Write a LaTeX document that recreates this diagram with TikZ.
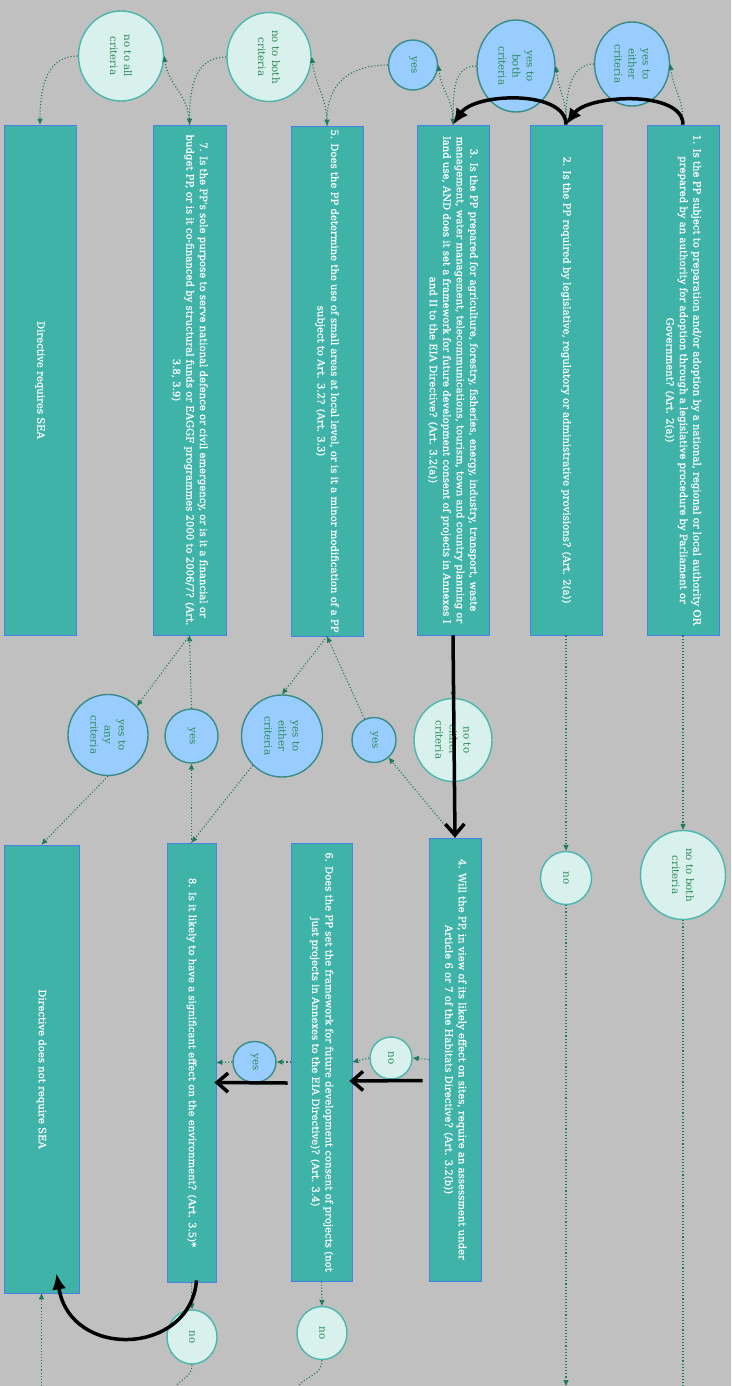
\documentclass[tikz,border=0pt]{standalone}
\usepackage{fontspec}
\setmainfont{DejaVu Serif}
\newfontfamily\boxfont{DejaVu Serif}[BoldFont={DejaVu Serif}, BoldFeatures={FakeBold=0.6}]
\definecolor{bggray}{HTML}{C0C0C0}
\definecolor{boxteal}{HTML}{40B3A8}
\definecolor{boxline}{HTML}{4A7FE6}
\definecolor{yesfill}{HTML}{99CCFF}
\definecolor{yesline}{HTML}{3A8C88}
\definecolor{nofill}{HTML}{D8F1ED}
\definecolor{noline}{HTML}{4DB6AC}
\definecolor{textgreen}{HTML}{2E8B57}
\definecolor{linkgreen}{HTML}{217A5B}
\usepackage{tikz}
\usetikzlibrary{calc}
\usetikzlibrary{arrows.meta,shapes.geometric}

\begin{document}
\begin{tikzpicture}[x=1pt, y=-1pt,
  question/.style={rotate=-90, draw=boxline, line width=0.8pt, fill=boxteal, text=white,
    align=center, inner sep=0pt, font=\boxfont\bfseries\fontsize{10.1}{13.5}\selectfont},
  yesnode/.style={rotate=-90, ellipse, draw=yesline, line width=1.4pt, fill=yesfill,
    text=textgreen, align=center, inner sep=0pt, font=\fontsize{10.3}{14}\selectfont},
  nonode/.style={yesnode, draw=noline, fill=nofill},
  link/.style={dotted, line width=1.1pt, draw=linkgreen, -{Triangle[length=6pt,width=5pt]}},
  route/.style={line width=3.5pt, black, -{Latex[length=16pt,width=14pt]}},
  routeopen/.style={line width=3.5pt, black, -{Straight Barb[length=11pt,width=19pt]}}]

\fill[bggray] (0,0) rectangle (731,1386);
\useasboundingbox (0,0) rectangle (731,1386);

% questions

\node[question, minimum width=510pt, minimum height=72pt] (q1) at (683,380)
  {1. Is the PP subject to preparation and/or adoption by a national, regional or local authority OR\\
   prepared by an authority for adoption through a legislative procedure by Parliament or\\
   Government? (Art. 2(a))};
\node[question, minimum width=510pt, minimum height=72pt] (q2) at (566,380)
  {2. Is the PP required by legislative, regulatory or administrative provisions? (Art. 2(a))};
\node[question, minimum width=510pt, minimum height=72pt] (q3) at (453,380)
  {3. Is the PP prepared for agriculture, forestry, fisheries, energy, industry, transport, waste\\
   management, water management, telecommunications, tourism, town and country planning or\\
   land use, AND does it set a framework for future development consent of projects in Annexes I\\
   and II to the EIA Directive? (Art. 3.2(a))};
\node[question, minimum width=510pt, minimum height=72pt] (q5) at (327,381)
  {5. Does the PP determine the use of small areas at local level, or is it a minor modification of a PP\\
   subject to Art. 3.2? (Art. 3.3)};
\node[question, minimum width=510pt, minimum height=73pt] (q7) at (189.5,380)
  {7. Is the PP's sole purpose to serve national defence or civil emergency, or is it a financial or\\
   budget PP, or is it co-financed by structural funds or EAGGF programmes 2000 to 2006/7? (Art.\\
   3.8, 3.9)};
\node[question, minimum width=510pt, minimum height=72pt] (req) at (40,380)
  {Directive requires SEA};

\node[question, minimum width=443pt, minimum height=52pt] (q4) at (455,1059.5)
  {4. Will the PP, in view of its likely effect on sites, require an assessment under\\
   Article 6 or 7 of the Habitats Directive? (Art. 3.2(b))};
\node[question, minimum width=438pt, minimum height=61pt] (q6) at (321.5,1062)
  {6. Does the PP set the framework for future development consent of projects (not\\
   just projects in Annexes to the EIA Directive)? (Art. 3.4)};
\node[question, minimum width=439pt, minimum height=49pt] (q8) at (191.5,1062.5)
  {8. Is it likely to have a significant effect on the environment? (Art. 3.5)*};
\node[question, minimum width=448pt, minimum height=75pt] (notreq) at (41.5,1069)
  {Directive does not require SEA};

% answers

\node[yesnode, minimum width=84pt, minimum height=75pt] (ye1) at (632,64) {yes to\\either\\criteria};
\node[yesnode, minimum width=92pt, minimum height=78pt] (yb) at (516,66) {yes to\\both\\criteria};
\node[yesnode, minimum width=50pt, minimum height=49pt] (y3) at (413,65) {yes};
\node[nonode, minimum width=89pt, minimum height=84pt] (nb5) at (269,57) {no to both\\criteria};
\node[nonode, minimum width=90pt, minimum height=85pt] (na) at (121,56) {no to all\\criteria};

\node[yesnode, minimum width=81pt, minimum height=80pt] (ya) at (108,735) {yes to\\any\\criteria};
\node[yesnode, minimum width=54pt, minimum height=53pt] (y8) at (191.5,736) {yes};
\node[yesnode, minimum width=82pt, minimum height=81pt] (ye5) at (282,736) {yes to\\either\\criteria};
\node[yesnode, minimum width=45pt, minimum height=44pt] (y4) at (374,740) {yes};
\node[nonode, minimum width=83pt, minimum height=78pt] (ne3) at (453,740) {no to\\either\\criteria};
\node[nonode, minimum width=53pt, minimum height=51pt] (n2) at (566,878) {no};
\node[nonode, minimum width=89pt, minimum height=85pt] (nb1) at (683,875) {no to both\\criteria};

\node[nonode, minimum width=42pt, minimum height=42pt] (n4) at (391,1058) {no};
\node[yesnode, minimum width=41pt, minimum height=43pt] (y6) at (254.5,1062) {yes};
\node[nonode, minimum width=53pt, minimum height=50pt] (n6) at (322,1333) {no};
\node[nonode, minimum width=54pt, minimum height=50pt] (n8) at (192,1337) {no};

% free ends at the bottom edge
\coordinate (end1) at (683,1386);
\coordinate (end2) at (566,1386);
\coordinate (end6) at (298,1386);
\coordinate (end8) at (176,1386);
\coordinate (start0) at (41.5,1386);

% edges, top row
\draw[link] (q1.west) .. controls +(0,-30) and +(4,30) .. (ye1.north);
\draw[link] (ye1.south) .. controls +(-22,0) and +(0,-35) .. (q2.west);
\draw[link] (q2.west) .. controls +(0,-30) and +(4,30) .. (yb.north);
\draw[link] (yb.south) .. controls +(-22,0) and +(0,-35) .. (q3.west);
\draw[link] (q3.west) .. controls +(0,-30) and +(4,30) .. (y3.north);
\draw[link] (y3.south) .. controls +(-40,0) and +(0,-40) .. (q5.west);
\draw[link] (q5.west) .. controls +(0,-30) and +(4,30) .. (nb5.north);
\draw[link] (nb5.south) .. controls +(-30,0) and +(0,-40) .. (q7.west);
\draw[link] (q7.west) .. controls +(0,-30) and +(4,30) .. (na.north);
\draw[link] (na.south) .. controls +(-30,0) and +(0,-40) .. (req.west);

% edges, middle
\draw[link] (q1.east) -- (nb1.west);
\draw[link, -] (nb1.east) -- (end1);
\draw[link] (q2.east) -- (n2.west);
\draw[link] (n2.east) -- (end2);
\draw[link] (q3.east) -- (ne3.west);
\draw[link] (ne3.east) -- (q4.west);
\draw[link] (q4.west) -- (y4);
\draw[link] (y4) -- (q5.east);
\draw[link] (q5.east) -- (ye5.west);
\draw[link] (ye5.-45) -- (q8.west);
\draw[link] (q7.east) -- (ya.135);
\draw[link] (ya.east) -- (notreq.west);
\draw[link] (q8.west) -- (y8.east);
\draw[link] (y8.west) -- (q7.east);

% edges, bottom
\draw[link] (q4.south) -- (n4.north);
\draw[link] (n4.south) -- (q6.north);
\draw[link] (q6.south) -- (y6.north);
\draw[link] (y6.south) -- (q8.north);
\draw[link] (q6.east) -- (n6.west);
\draw[link, -] (n6.east) .. controls +(0,15) and +(8,-10) .. (end6);
\draw[link] (q8.east) -- (n8.west);
\draw[link, -] (n8.east) .. controls +(0,12) and +(6,-8) .. (end8);
\draw[link] (start0) -- (notreq.east);

% route
\draw[route] (q1.west) .. controls +(0,-35) and +(22,-30) .. (q2.west);
\draw[route] (q2.west) .. controls +(0,-35) and +(22,-32) .. (q3.west);
\draw[routeopen] (q3.east) -- (q4.west);
\draw[routeopen] ($(q4.south)+(-6,21)$) -- ($(q6.north)+(-3,19)$);
\draw[routeopen] ($(q6.south)+(-3,21)$) -- ($(q8.north)+(-2,20)$);
\draw[route] ($(q8.east)+(5,-2)$) .. controls +(-6,75) and +(14,87) .. ($(notreq.east)+(15,-20)$);

\end{tikzpicture}
\end{document}
